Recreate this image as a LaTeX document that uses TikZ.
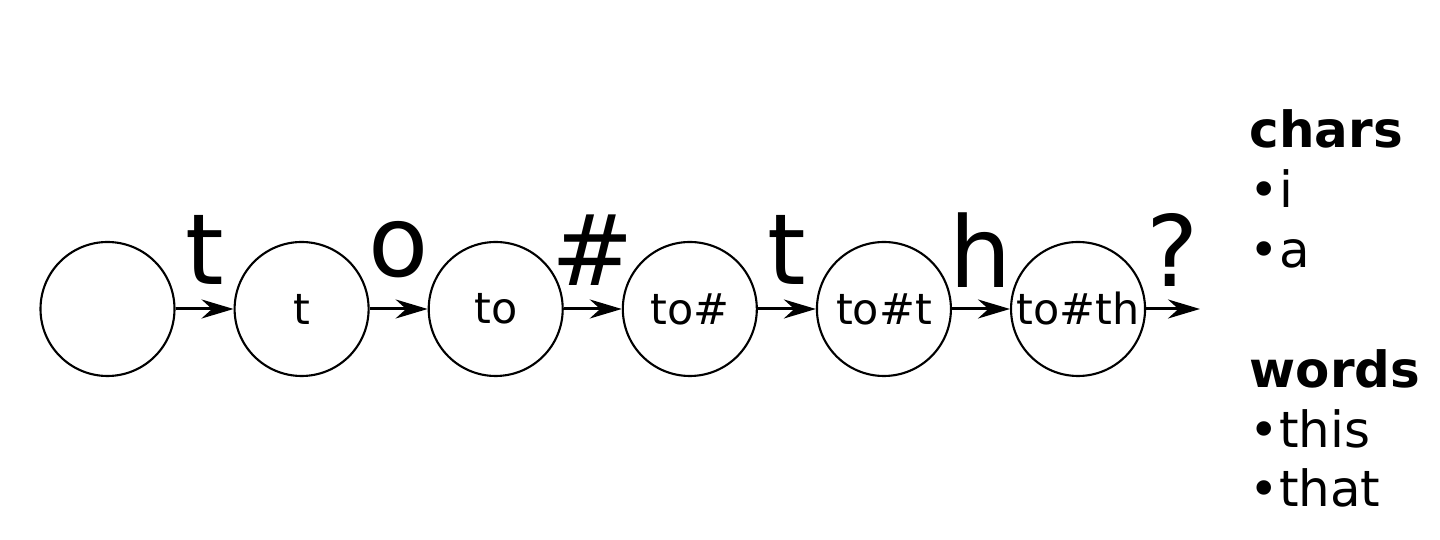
\documentclass[tikz,border=0pt]{standalone}
\usepackage{fontspec}
\setmainfont{DejaVu Sans}
\usetikzlibrary{arrows.meta,positioning}

\begin{document}
\begin{tikzpicture}[node distance=0.58cm, every node/.style={font=\fontsize{12.2pt}{14.6pt}\selectfont}]
\tikzset{state/.style={draw, circle, line width=0.6pt, minimum size=1.34cm, inner sep=0pt}}
\tikzset{trans/.style={line width=0.85pt, -{Stealth[length=0.32cm, width=0.19cm]}}}
\tikzset{sym/.style={anchor=center, yshift=0.59cm, inner sep=0pt, font=\fontsize{28pt}{33pt}\selectfont}}
\useasboundingbox (0,0) rectangle (14.4,5.4);
\node[state] (s0) at (1.075,2.31) {};
\node[state, right=of s0] (s1) {t};
\node[state, right=of s1] (s2) {to};
\node[state, right=of s2] (s3) {to\#};
\node[state, right=of s3] (s4) {to\#t};
\node[state, right=of s4] (s5) {to\#th};
\coordinate (out) at (12.0,2.31);
\draw[trans] (s0) -- node[sym] {t} (s1);
\draw[trans] (s1) -- node[sym] {o} (s2);
\draw[trans] (s2) -- node[sym] {\#} (s3);
\draw[trans] (s3) -- node[sym] {t} (s4);
\draw[trans] (s4) -- node[sym] {h} (s5);
\draw[trans] (s5) -- node[sym] {?} (out);
% vocabulary
\node[anchor=base west, align=left, inner sep=0pt, font=\fontsize{14.2pt}{17.07pt}\selectfont] (vocab) at (12.49,0.33)
  {\textbf{chars}\\•i\\•a\\[0.6cm]\textbf{words}\\•this\\•that};
\end{tikzpicture}
\end{document}
